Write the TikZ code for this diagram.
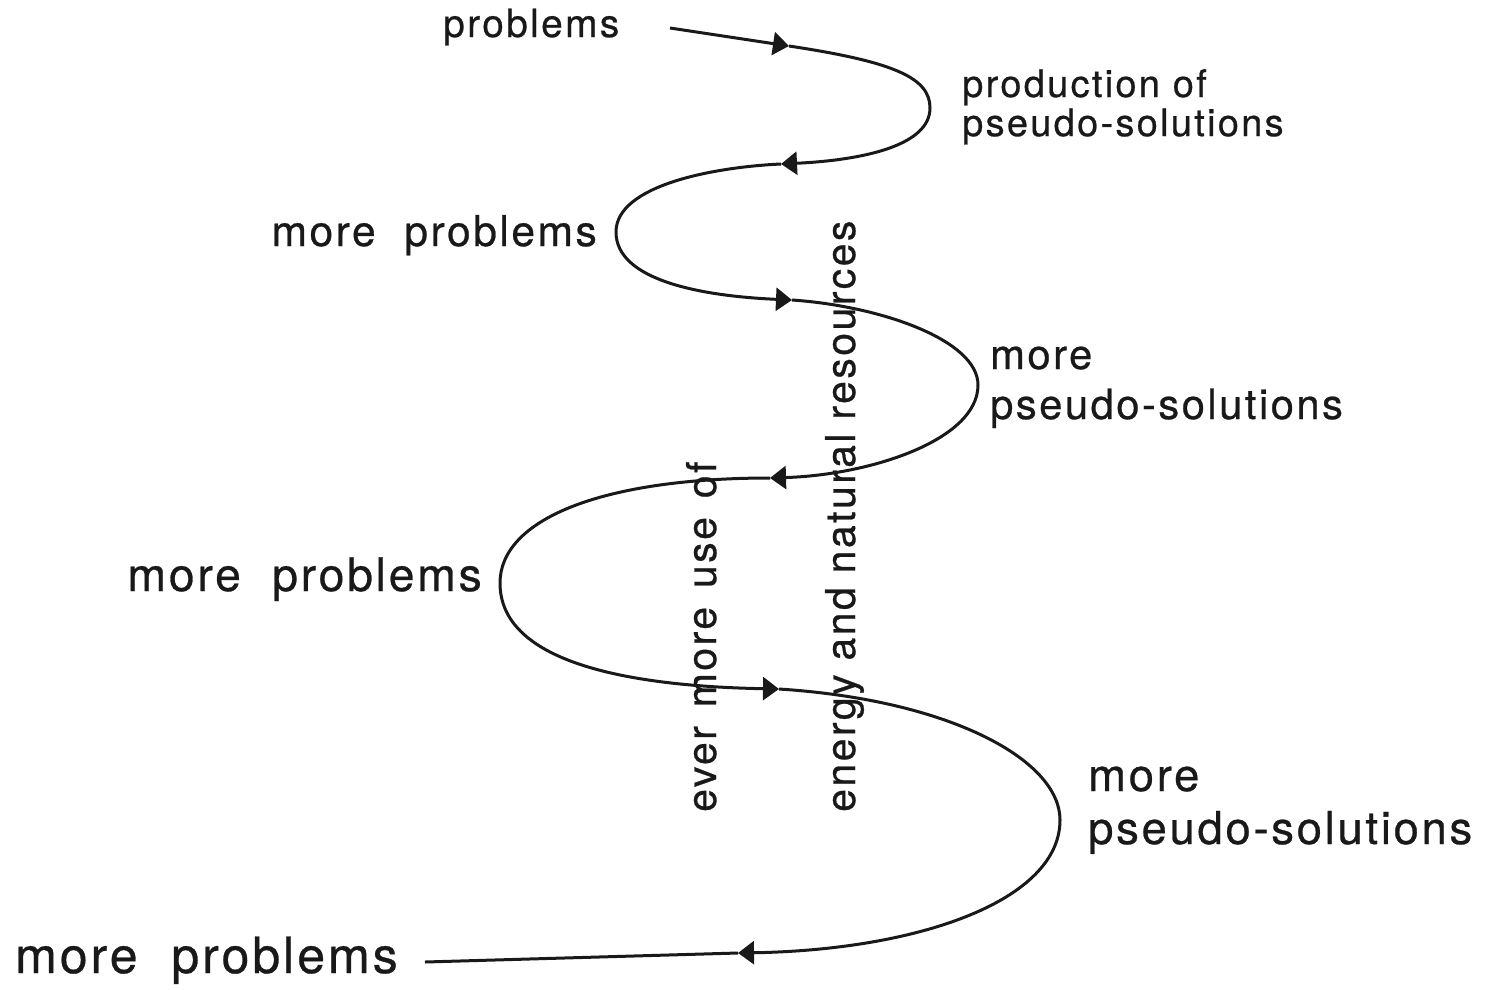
\documentclass[tikz,border=0pt]{standalone}
\usepackage{fontspec}
\setmainfont{TeX Gyre Heros}[LetterSpace=6,FakeBold=0.6]
\usetikzlibrary{arrows.meta}
\newcommand{\fsz}[2]{\fontsize{#1}{#2}\selectfont}
\newcommand{\wsp}{\hspace{0.46em}}
\begin{document}
\begin{tikzpicture}[x=1pt,y=-1pt,
  curve/.style={line width=3pt,draw=black!90},
  tip/.style={-{Triangle[length=16pt,width=23pt]}},
  lbl/.style={inner sep=0pt,text=black!90},
  vlbl/.style={inner sep=0pt,text=black!90,rotate=90,anchor=base west,font=\fsz{41}{41}}]
\useasboundingbox (0,0) rectangle (1491,989);
% labels
\node[lbl,anchor=base west,font=\fsz{38.9}{39}] (p0) at (443,37) {problems};
\node[lbl,anchor=base west,font=\fsz{38}{38}] (s1) at (962,97)
  {\begin{tabular}[t]{@{}l@{}}production of\\pseudo-solutions\end{tabular}};
\node[lbl,anchor=base east,font=\fsz{42.5}{43}] (p1) at (597,246) {more\ \ problems};
\node[lbl,anchor=base west,font=\fsz{41.7}{50}] (s2) at (990,369)
  {\begin{tabular}[t]{@{}l@{}}more\\pseudo-solutions\end{tabular}};
\node[lbl,anchor=base east,font=\fsz{46.3}{47}] (p2) at (482,591) {more\ \ problems};
\node[lbl,anchor=base west,font=\fsz{45.4}{53}] (s3) at (1088,791)
  {\begin{tabular}[t]{@{}l@{}}more\\pseudo-solutions\end{tabular}};
\node[lbl,anchor=base west,font=\fsz{50}{50}] (p3) at (15,973) {more\ \ problems};
\node[vlbl] (v1) at (716,812) {ever\wsp more\wsp use\wsp of};
\node[vlbl] (v2) at (855,812) {energy and natural resources};
% curve points
\coordinate (s) at (670,28);
\coordinate (a1) at (789,46);
\coordinate (a2) at (781,164);
\coordinate (a3) at (792,300);
\coordinate (a4) at (770,478);
\coordinate (a5) at (779,689);
\coordinate (a6) at (738,953);
\coordinate (e) at (425,962);
\draw[curve,tip] (s) -- (a1);
\draw[curve,tip] (a1) .. controls (895,62) and (930,78) .. (930,108)
  .. controls (930,145) and (865,160) .. (a2);
\draw[curve,tip] (a2) .. controls (715,167) and (616,185) .. (616,232)
  .. controls (616,280) and (700,296) .. (a3);
\draw[curve,tip] (a3) .. controls (880,306) and (978,340) .. (978,385)
  .. controls (978,440) and (870,475) .. (a4);
\draw[curve,tip] (a4) .. controls (600,478) and (500,520) .. (500,583)
  .. controls (500,660) and (620,686) .. (a5);
\draw[curve,tip] (a5) .. controls (950,700) and (1060,760) .. (1060,820)
  .. controls (1060,900) and (920,950) .. (a6);
\draw[curve] (a6) -- (e);
\end{tikzpicture}
\end{document}
